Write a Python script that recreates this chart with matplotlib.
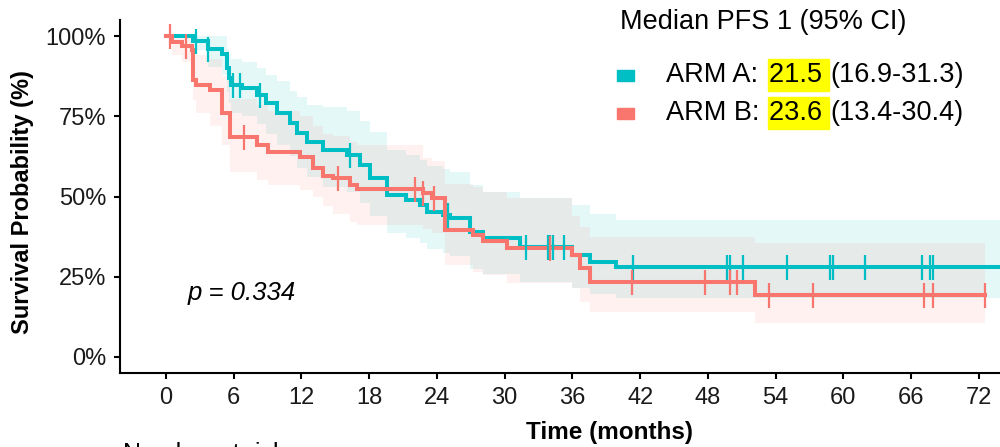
import numpy as np
import matplotlib
matplotlib.use("Agg")
import matplotlib.pyplot as plt
from matplotlib.patches import Rectangle

plt.rcParams['font.family'] = ['Liberation Sans', 'DejaVu Sans']

# ---- ARM A (cyan): step starts, survival %, 95% CI
arm_a_time = [0, 2.4, 3.7, 5.0, 5.4, 5.6, 5.8, 6.7, 8.1, 8.9, 9.8, 11.0, 11.6, 12.5, 13.9,
              16.0, 17.2, 18.1, 19.6, 21.3, 22.5, 23.1, 24.5, 25.2, 26.9, 28.1, 31.4,
              36.0, 37.6, 39.9]
arm_a_surv = [100, 98.5, 96.0, 94.5, 90.0, 87.0, 84.7, 83.8, 81.6, 79.0, 76.0, 73.0, 69.8,
              67.0, 64.5, 63.0, 59.8, 55.8, 50.5, 49.0, 47.4, 45.2, 44.2, 43.3, 39.0, 37.0,
              34.3, 31.8, 29.6, 28.0]
arm_a_upper = [100, 100, 100, 100, 96, 94.5, 93, 92, 90, 88, 86, 83, 81, 78.5, 78,
               76.5, 73.5, 70, 64.5, 63, 61.5, 59.5, 58.5, 57.5, 53.5, 51.5, 49.5,
               47.4, 44.5, 42.7]
arm_a_lower = [100, 95.5, 90.5, 88, 82.5, 79, 76, 75, 72.5, 69.5, 66, 62.5, 59, 56, 53,
               51.5, 48, 44, 38.5, 37, 35.5, 33.5, 32.5, 31.5, 27.5, 26, 23.5,
               21.5, 19.5, 18.4]
arm_a_end = 81.0
arm_a_censor = [2.7, 3.7, 5.9, 6.6, 8.3, 16.3, 25.0, 31.9, 33.8, 34.0, 34.3, 35.3, 41.4,
                49.7, 50.0, 51.1, 55.0, 58.8, 59.1, 61.9, 67.0, 67.7, 67.9]

# ---- ARM B (salmon)
arm_b_time = [0, 0.5, 1.4, 2.3, 2.4, 2.7, 3.9, 5.0, 5.7, 8.1, 9.0, 11.9, 13.0, 13.9, 14.8,
              16.3, 16.9, 22.8, 23.6, 24.7, 27.2, 28.1, 30.2, 36.0, 36.7, 37.6, 52.2]
arm_b_surv = [100, 98.0, 96.8, 95.5, 86.3, 84.7, 83.2, 76.0, 68.5, 66.0, 64.0, 62.3, 59.0,
              56.5, 55.8, 53.6, 52.3, 51.0, 49.5, 39.6, 38.0, 36.0, 34.0, 31.8, 27.7,
              23.4, 19.3]
arm_b_upper = [100, 100, 100, 99.5, 95, 94, 93, 87.5, 80.5, 78.5, 76.5, 75, 72, 69.5, 69,
               67, 66, 62, 61, 54, 53, 51.5, 49.5, 44, 40.5, 37.4, 35.5]
arm_b_lower = [100, 94, 92, 90, 80, 76, 72, 66, 57.6, 55, 53.5, 52, 50, 47, 44.5,
               42, 41, 40, 38.5, 28.7, 26.5, 25.5, 23, 21.5, 17, 14, 10.6]
arm_b_end = 72.5
arm_b_censor = [0.4, 1.8, 6.9, 15.2, 22.1, 22.8, 23.7, 34.0, 41.3, 47.7, 50.0, 50.6,
                53.4, 57.3, 67.1, 67.9, 72.5]

x_ticks = list(range(0, 73, 6))
y_ticks = [0, 25, 50, 75, 100]
y_labels = ["0%", "25%", "50%", "75%", "100%"]

col_a = "#00BFC4"
col_b = "#F8766D"


def extend(t, v, t_end):
    return list(t) + [t_end], list(v) + [v[-1]]


def value_at(t, v, c):
    idx = np.searchsorted(np.array(t), c, side="right") - 1
    return np.array(v)[idx]


fig = plt.figure(figsize=(10, 4.47), dpi=100)
ax = fig.add_axes([0.12, 74 / 447, 0.98, 353 / 447])

arms = [
    (arm_a_time, arm_a_surv, arm_a_upper, arm_a_lower, arm_a_end, arm_a_censor, col_a),
    (arm_b_time, arm_b_surv, arm_b_upper, arm_b_lower, arm_b_end, arm_b_censor, col_b),
]

# CI bands
for t, s, up, lo, end, cens, col in arms:
    tx, upx = extend(t, up, end)
    _, lox = extend(t, lo, end)
    ax.fill_between(tx, lox, upx, step="post", color=col, alpha=0.1, lw=0)

# survival curves
for t, s, up, lo, end, cens, col in arms:
    tx, sx = extend(t, s, end)
    ax.step(tx, sx, where="post", color=col, lw=2.9, solid_joinstyle="miter")

# censor marks
for t, s, up, lo, end, cens, col in arms:
    ys = value_at(t, s, cens)
    ax.plot(cens, ys, ls="none", marker="|", ms=18, mew=1.6, color=col)

ax.set_xlim(-4.07, 82.73)
ax.set_ylim(-5, 105)
ax.set_xticks(x_ticks)
ax.set_yticks(y_ticks)
ax.set_yticklabels(y_labels)
for sp in ["top", "right"]:
    ax.spines[sp].set_visible(False)
for sp in ["left", "bottom"]:
    ax.spines[sp].set_linewidth(1.5)
    ax.spines[sp].set_color("black")
ax.tick_params(axis="both", length=4, width=1.5, color="black",
               labelsize=17, labelcolor="#1a1a1a", pad=6)

ax.set_ylabel("Survival Probability (%)", fontsize=17, fontweight="bold", labelpad=8)
ax.yaxis.label.set_y(0.484)
fig.text(0.61, 1 - 433 / 447, "Time (months)", fontsize=17.5, fontweight="bold",
         ha="center", va="center")

ax.text(1.95, 20, "p = 0.334", fontsize=18.5, style="italic", ha="left", va="center")

# legend block
fig.text(0.620, 1 - 22 / 447, "Median PFS 1 (95% CI)", fontsize=19.5, ha="left", va="center")
leg_rows = [
    ("ARM A: ", "21.5 ", "(16.9-31.3)", col_a, 75),
    ("ARM B: ", "23.6 ", "(13.4-30.4)", col_b, 113),
]
for lab, med, ci, col, yc in leg_rows:
    fig.patches.append(Rectangle((617 / 1000, 1 - (yc + 6) / 447), 17 / 1000, 11 / 447,
                                 transform=fig.transFigure, color=col))
    fig.patches.append(Rectangle((768 / 1000, 1 - (yc + 16) / 447), 61 / 1000, 32 / 447,
                                 transform=fig.transFigure, color="#FFFF00"))
    fig.text(0.666, 1 - yc / 447, lab, fontsize=19.5, ha="left", va="center")
    fig.text(0.769, 1 - yc / 447, med, fontsize=19.5, ha="left", va="center")
    fig.text(0.830, 1 - yc / 447, ci, fontsize=19.5, ha="left", va="center")

fig.text(0.123, 1 - 442 / 447, "Number at risk", fontsize=18, ha="left", va="top")

fig.savefig("out.png", dpi=100)
